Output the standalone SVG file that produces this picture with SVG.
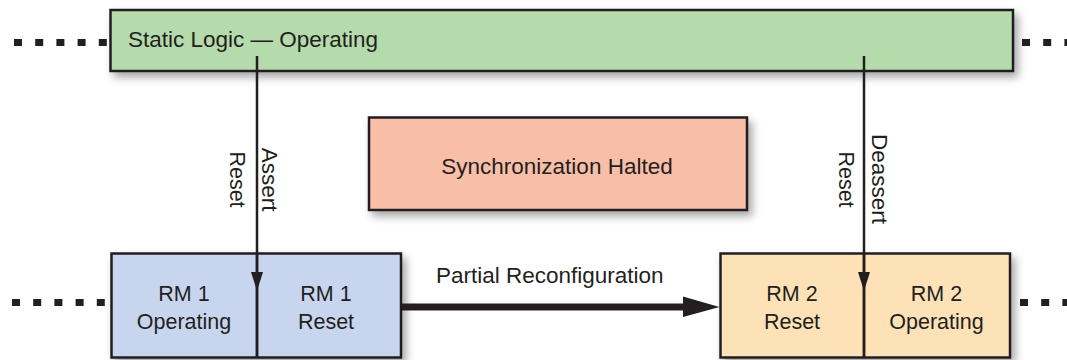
<svg xmlns="http://www.w3.org/2000/svg" width="1067" height="360" viewBox="0 0 1067 360">
<defs>
<style>
.box{stroke:#231f20;stroke-width:2.5;filter:url(#sh)}
.t{font-family:"Liberation Sans",Arial,sans-serif;fill:#231f20;font-size:22.5px}
.tb{font-family:"Liberation Sans",Arial,sans-serif;fill:#231f20;font-size:21.5px;text-anchor:middle}
.dots{stroke:#231f20;stroke-width:7;stroke-dasharray:8 13.2;fill:none}
.ln{stroke:#231f20;stroke-width:2.5;fill:none}
.ah{fill:#231f20}
</style>
<filter id="sh" x="-10%" y="-20%" width="130%" height="150%">
<feDropShadow dx="4" dy="5" stdDeviation="4" flood-color="#000" flood-opacity="0.35"/>
</filter>
</defs>
<rect width="1067" height="360" fill="#fff"/>
<g id="dots">
<line class="dots" x1="14" y1="42.5" x2="108" y2="42.5"/>
<line class="dots" x1="1022" y1="42.5" x2="1067" y2="42.5"/>
<line class="dots" x1="12" y1="302.5" x2="106" y2="302.5"/>
<line class="dots" x1="1020" y1="302.5" x2="1067" y2="302.5"/>
</g>
<g id="static">
<rect class="box" x="110.5" y="10" width="902.5" height="61" fill="#b5dbad"/>
<text class="t" x="128" y="47">Static Logic — Operating</text>
</g>
<g id="sync">
<rect class="box" x="369" y="117.5" width="378" height="92.5" fill="#f9bea7"/>
<text class="t" x="557" y="174" text-anchor="middle">Synchronization Halted</text>
</g>
<g id="rm1">
<rect class="box" x="111.5" y="253.5" width="289.5" height="104" fill="#c7d6ee"/>
<line class="ln" x1="257" y1="253.5" x2="257" y2="357.5"/>
<text class="tb" x="184" y="301">RM 1</text>
<text class="tb" x="184" y="329">Operating</text>
<text class="tb" x="326" y="301">RM 1</text>
<text class="tb" x="326" y="329">Reset</text>
</g>
<g id="rm2">
<rect class="box" x="720.5" y="253.5" width="289.5" height="104" fill="#fde2b8"/>
<line class="ln" x1="864" y1="253.5" x2="864" y2="357.5"/>
<text class="tb" x="792" y="301">RM 2</text>
<text class="tb" x="792" y="329">Reset</text>
<text class="tb" x="936.5" y="301">RM 2</text>
<text class="tb" x="936.5" y="329">Operating</text>
</g>
<g id="connectors">
<line class="ln" x1="257" y1="56" x2="257" y2="357.5"/>
<polygon class="ah" points="251,272 263,272 257,291"/>
<line class="ln" x1="864" y1="56" x2="864" y2="357.5"/>
<polygon class="ah" points="858,272 870,272 864,291"/>
<line x1="402" y1="307" x2="685" y2="307" stroke="#231f20" stroke-width="7"/>
<polygon class="ah" points="683,296.5 719.5,307 683,317"/>
<text class="t" transform="translate(262,179.5) rotate(90)" text-anchor="middle">Assert</text>
<text class="t" transform="translate(230,179.5) rotate(90)" text-anchor="middle" style="font-size:21.5px">Reset</text>
<text class="t" transform="translate(872,179) rotate(90)" text-anchor="middle">Deassert</text>
<text class="t" transform="translate(838.5,179.5) rotate(90)" text-anchor="middle" style="font-size:21.5px">Reset</text>
<text class="t" x="436" y="282.5">Partial Reconfiguration</text>
</g>
</svg>
